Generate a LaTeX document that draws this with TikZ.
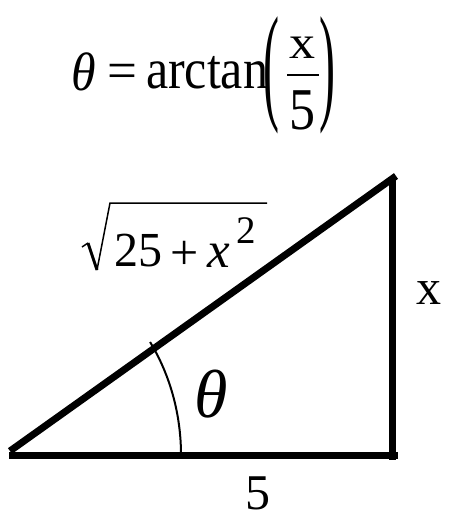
\documentclass[tikz,border=0pt]{standalone}
\usepackage{fontspec}
\usepackage{graphicx}
\setmainfont{Liberation Serif}
\newcommand{\txt}[4]{{\fontsize{#1}{#1}\selectfont\scalebox{#2}[#3]{#4}}}
\tikzset{
  lbl/.style={inner sep=0pt, outer sep=0pt},
  side/.style={line width=7pt},
  thin/.style={line width=2pt},
}
\begin{document}
\begin{tikzpicture}[x=1pt,y=-1pt]
\useasboundingbox (0,0) rectangle (475,517);
% equation
\node[lbl] (th) at (83.5,71.5) {\txt{50}{1}{1.08}{\itshape θ}};
\node[lbl] (eq) at (122,76.5) {\txt{53}{1}{1}{=}};
\node[lbl,anchor=base west] (arc) at (146,88) {\txt{50}{1}{1.14}{arctan}};
\node[lbl] (lp) at (271.5,75) {\txt{48}{1}{2.7}{(}};
\node[lbl] (rp) at (327.5,75) {\txt{48}{1}{2.7}{)}};
\node[lbl] (num) at (302,48) {\txt{52}{1}{0.9}{x}};
\node[lbl] (den) at (302.5,110) {\txt{52}{1}{1.14}{5}};
\coordinate (barL) at (287,75);
\coordinate (barR) at (319,75);
\draw[thin] (barL) -- (barR);
% hypotenuse label
\coordinate (r1) at (82,247);
\coordinate (r2) at (88,243);
\coordinate (r3) at (97,270);
\coordinate (r4) at (110,203);
\coordinate (r5) at (267,203);
\draw[line width=1.5pt,line join=miter] (r1) -- (r2);
\draw[line width=3pt] (r2) -- (r3);
\draw[line width=1.5pt] (r3) -- (r4) -- (r5);
\node[lbl,anchor=base west] (n25) at (114,266) {\txt{48}{1}{1.02}{25}};
\node[lbl] (plus) at (185,255) {\txt{50}{1}{1}{+}};
\node[lbl] (xi) at (219,255.5) {\txt{51}{1}{1}{\itshape x}};
\node[lbl] (sup) at (246.5,230.5) {\txt{39}{1}{1}{2}};
% triangle
\coordinate (A) at (10,451);
\coordinate (B0) at (9,455);
\coordinate (B1) at (398,455);
\coordinate (C0) at (392,177);
\coordinate (C1) at (392,460);
\coordinate (T) at (396,176);
\draw[side] (A) -- (T);
\draw[side] (B0) -- (B1);
\draw[side] (C0) -- (C1);
\coordinate (O) at (10,455);
\draw[thin] (181,455) arc[start angle=0, end angle=-35, x radius=171, y radius=197];
\node[lbl] (xr) at (428.5,293) {\txt{50}{1}{1}{x}};
\node[lbl] (thi) at (211,394.5) {\txt{68}{1}{1}{\itshape θ}};
\node[lbl] (five) at (258,493) {\txt{50}{1}{1}{5}};
\end{tikzpicture}
\end{document}
